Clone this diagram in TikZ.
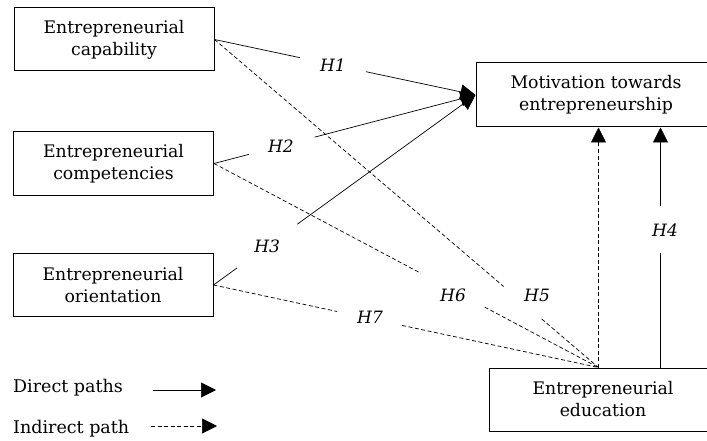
\documentclass[tikz,border=0pt]{standalone}
\usepackage{fontspec}
\setmainfont{DejaVu Serif}
\usetikzlibrary{arrows.meta,calc}
\begin{document}
\begin{tikzpicture}[x=1pt,y=-1pt,
  box/.style={draw, line width=1pt, minimum width=200pt, minimum height=63pt, align=center,
    font=\fontsize{17.3}{22}\selectfont, inner sep=0pt},
  hyp/.style={font=\fontsize{17}{19}\selectfont\itshape, inner sep=0pt},
  lgd/.style={font=\fontsize{17.5}{19}\selectfont, inner sep=0pt, anchor=west},
  conn/.style={line width=0.7pt},
  ind/.style={conn, dash pattern=on 4pt off 2.5pt},
  tip/.style={-{Triangle[length=15pt,width=15pt]}}
]
\useasboundingbox (0,0) rectangle (707,441);

% boxes
\node[box] (cap) at (114,39.5) {Entrepreneurial\\capability};
\node[box] (comp) at (113.5,163.5) {Entrepreneurial\\competencies};
\node[box] (ori) at (113,285) {Entrepreneurial\\orientation};
\node[box, minimum width=240pt, minimum height=64pt] (mot) at (596,95) {Motivation towards\\entrepreneurship};
\node[box, minimum width=228pt] (edu) at (603,399.5) {Entrepreneurial\\education};

\coordinate (ea) at ($(edu.north west)+(110,0)$);
\coordinate (eb) at ($(edu.north west)+(172,0)$);

% H1
\path (cap.east) -- coordinate[pos=0.328] (h1a) coordinate[pos=0.58] (h1b) coordinate[pos=0.454] (h1l) (mot.west);
\draw[conn] (cap.east) -- (h1a);
\draw[conn,tip] (h1b) -- (mot.west);
\node[hyp] (H1) at (h1l) {H1};

% H2
\path (comp.east) -- coordinate[pos=0.134] (h2a) coordinate[pos=0.385] (h2b) coordinate[pos=0.256] (h2l) (mot.west);
\draw[conn] (comp.east) -- (h2a);
\draw[conn,tip] (h2b) -- (mot.west);
\node[hyp] (H2) at (h2l) {H2};

% H3
\path (ori.east) -- coordinate[pos=0.09] (h3a) coordinate[pos=0.32] (h3b) coordinate[pos=0.205] (h3l) (mot.west);
\draw[conn] (ori.east) -- (h3a);
\draw[conn,tip] (h3b) -- (mot.west);
\node[hyp] (H3) at (h3l) {H3};

% H4
\path (eb) -- coordinate[pos=0.477] (h4a) coordinate[pos=0.672] (h4b) (eb |- mot.south);
\draw[conn] (eb) -- (h4a);
\draw[conn,tip] (h4b) -- (eb |- mot.south);
\node[hyp] (H4) at (665,230) {H4};

% indirect vertical
\draw[ind,tip] (ea) -- (ea |- mot.south);

% H5
\path (cap.east) -- coordinate[pos=0.753] (h5a) coordinate[pos=0.852] (h5b) (ea);
\draw[ind] (cap.east) -- (h5a);
\draw[ind] (h5b) -- (ea);
\node[hyp] (H5) at (537,295) {H5};

% H6
\path (comp.east) -- coordinate[pos=0.538] (h6a) coordinate[pos=0.704] (h6b) (ea);
\draw[ind] (comp.east) -- (h6a);
\draw[ind] (h6b) -- (ea);
\node[hyp] (H6) at (453,295) {H6};

% H7
\path (ori.east) -- coordinate[pos=0.321] (h7a) coordinate[pos=0.49] (h7b) (ea);
\draw[ind] (ori.east) -- (h7a);
\draw[ind] (h7b) -- (ea);
\node[hyp] (H7) at (370,317) {H7};

% legend
\node[lgd] (ld) at (13,388) {Direct paths};
\node[lgd] (li) at (13,429) {Indirect path};
\coordinate (lds) at (153,390);
\coordinate (lde) at (216,390);
\coordinate (lis) at (151,426);
\coordinate (lie) at (217,426);
\draw[conn,tip] (lds) -- (lde);
\draw[ind,tip] (lis) -- (lie);
\end{tikzpicture}
\end{document}
